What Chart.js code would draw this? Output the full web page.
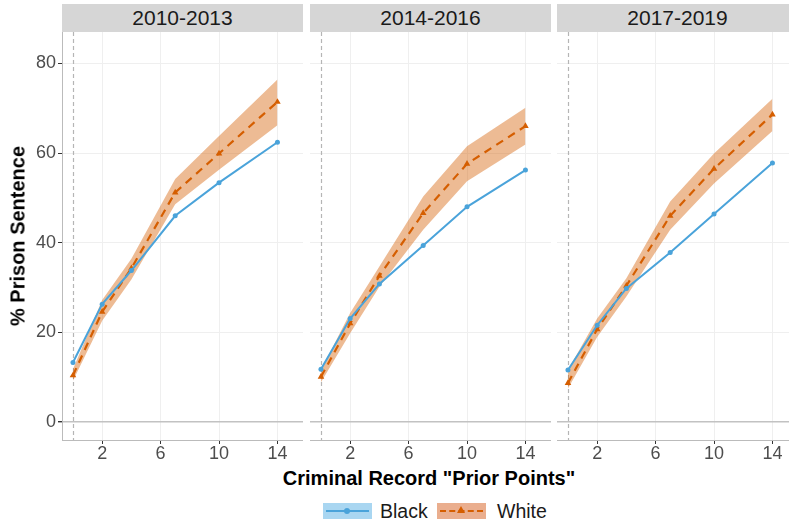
<!DOCTYPE html>
<html>
<head>
<meta charset="utf-8">
<script src="https://cdn.jsdelivr.net/npm/chart.js@4.4.1/dist/chart.umd.min.js"></script>
<style>
    html, body { margin: 0; padding: 0; background: #fff; overflow: hidden; }
    body { width: 789px; height: 523px; position: relative; font-family: "Liberation Sans", Arial, sans-serif; }
    .strip { position: absolute; top: 4px; height: 28px; background: #d6d6d6; color: #1a1a1a;
             font-size: 21px; line-height: 28px; text-align: center; }
    .panel { position: absolute; top: 32px; }
    .ytitle { position: absolute; left: 18px; top: 236px; transform: translate(-50%, -50%) rotate(-90deg);
              font-weight: bold; font-size: 20px; white-space: nowrap; color: #000; }
    .xtitle { position: absolute; left: 429px; top: 478px; transform: translate(-50%, -50%);
              font-weight: bold; font-size: 20px; white-space: nowrap; color: #000; }
    .legend { position: absolute; top: 503px; height: 16px; }
    .key { position: absolute; top: 0; width: 49px; height: 16px; }
    .lab { position: absolute; top: -4px; font-size: 19.5px; line-height: 24px; color: #1a1a1a; }
</style>
</head>
<body>
<div class="strip" style="left:62px;width:241px">2010-2013</div>
<div class="strip" style="left:310px;width:241px">2014-2016</div>
<div class="strip" style="left:557px;width:241px">2017-2019</div>

<div class="panel" style="left:0px;width:303px;height:432px"><canvas id="p0"></canvas></div>
<div class="panel" style="left:310px;width:241px;height:432px"><canvas id="p1"></canvas></div>
<div class="panel" style="left:557px;width:241px;height:432px"><canvas id="p2"></canvas></div>

<div class="ytitle">% Prison Sentence</div>
<div class="xtitle">Criminal Record "Prior Points"</div>

<div class="legend" style="left:0">
    <div class="key" style="left:323px;background:#a9d6f1">
        <div style="position:absolute;left:3px;right:3px;top:7px;height:2px;background:#4aa3da"></div>
        <div style="position:absolute;left:21px;top:5px;width:6px;height:6px;border-radius:3px;background:#4aa3da"></div>
    </div>
    <div class="lab" style="left:380px">Black</div>
    <div class="key" style="left:437px;background:#eaae8e">
        <div style="position:absolute;left:3px;right:3px;top:7px;border-top:2px dashed #d55e00"></div>
        <div style="position:absolute;left:20px;top:3px;width:0;height:0;border-left:4px solid transparent;border-right:4px solid transparent;border-bottom:7px solid #d55e00"></div>
    </div>
    <div class="lab" style="left:497px">White</div>
</div>

<script>
// Prior points where estimates were taken
const priorPoints = [0, 2, 4, 7, 10, 14];
const xTicks = [2, 6, 10, 14];
const yTicks = [0, 20, 40, 60, 80];
const refLineX = 0;

const periods = ['2010-2013', '2014-2016', '2017-2019'];

// % prison sentence, Black defendants
const black1013 = [13.3, 26.3, 33.8, 46.0, 53.4, 62.4];
const black1416 = [11.8, 23.1, 30.8, 39.4, 48.0, 56.2];
const black1719 = [11.6, 21.6, 29.8, 37.8, 46.4, 57.8];

// % prison sentence, White defendants
const white1013 = [10.4, 24.6, 34.3, 51.2, 59.9, 71.4];
const white1416 = [10.1, 22.0, 32.6, 46.6, 57.6, 66.0];
const white1719 = [8.7, 20.7, 30.4, 46.0, 56.5, 68.6];

// White confidence band
const whiteHi1013 = [11.8, 27.2, 36.4, 54.2, 63.8, 76.4];
const whiteLo1013 = [9.2, 22.6, 31.8, 48.6, 56.3, 66.2];
const whiteHi1416 = [11.6, 24.3, 34.7, 50.3, 61.5, 70.1];
const whiteLo1416 = [8.9, 19.8, 30.2, 42.9, 53.7, 61.9];
const whiteHi1719 = [11.6, 23.1, 32.1, 49.2, 59.9, 72.1];
const whiteLo1719 = [7.5, 19.0, 28.0, 42.9, 53.2, 64.9];

const blackData = [black1013, black1416, black1719];
const whiteData = [white1013, white1416, white1719];
const whiteHi = [whiteHi1013, whiteHi1416, whiteHi1719];
const whiteLo = [whiteLo1013, whiteLo1416, whiteLo1719];

const BLUE = '#4aa3da';
const ORANGE = '#d55e00';
const BAND = 'rgba(213, 94, 0, 0.42)';

const toXY = arr => arr.map((v, i) => ({ x: priorPoints[i], y: v }));

// Dashed reference line at zero prior points
const refLinePlugin = {
    id: 'refLine',
    beforeDatasetsDraw(chart) {
        const { ctx, chartArea, scales } = chart;
        const px = Math.round(scales.x.getPixelForValue(refLineX)) + 0.5;
        ctx.save();
        ctx.strokeStyle = '#b5b5b5';
        ctx.lineWidth = 1.2;
        ctx.setLineDash([4, 3]);
        ctx.beginPath();
        ctx.moveTo(px, chartArea.top);
        ctx.lineTo(px, chartArea.bottom);
        ctx.stroke();
        ctx.restore();
    }
};

let charts = {};

function makePanel(idx) {
    const first = idx === 0;
    const ctx = document.getElementById('p' + idx).getContext('2d');
    charts[periods[idx]] = new Chart(ctx, {
        type: 'line',
        data: {
            datasets: [
                {
                    label: 'Black',
                    data: toXY(blackData[idx]),
                    borderColor: BLUE,
                    backgroundColor: BLUE,
                    borderWidth: 2,
                    pointRadius: 2.5,
                    pointStyle: 'circle',
                    pointBorderWidth: 0,
                    fill: false,
                    order: 0
                },
                {
                    label: 'White',
                    data: toXY(whiteData[idx]),
                    borderColor: ORANGE,
                    backgroundColor: ORANGE,
                    borderWidth: 2.2,
                    borderDash: [8, 6],
                    pointRadius: 3.8,
                    pointStyle: 'triangle',
                    pointBorderWidth: 0,
                    fill: false,
                    order: 0
                },
                {
                    label: 'whiteHi',
                    data: toXY(whiteHi[idx]),
                    borderWidth: 0,
                    pointRadius: 0,
                    backgroundColor: BAND,
                    fill: '+1',
                    order: 1
                },
                {
                    label: 'whiteLo',
                    data: toXY(whiteLo[idx]),
                    borderWidth: 0,
                    pointRadius: 0,
                    fill: false,
                    order: 1
                }
            ]
        },
        options: {
            responsive: true,
            maintainAspectRatio: false,
            animation: false,
            layout: { padding: 0, autoPadding: false },
            plugins: {
                legend: { display: false },
                tooltip: { enabled: false },
                title: { display: false }
            },
            scales: {
                x: {
                    type: 'linear',
                    min: -0.75,
                    max: 15.75,
                    afterBuildTicks: s => { s.ticks = xTicks.map(v => ({ value: v })); },
                    afterFit: s => {
                        s.height = 24;
                        s.paddingLeft = 0; s.paddingRight = 0;
                    },
                    grid: {
                        color: c => c.tick && xTicks.includes(c.tick.value) ? '#efefef' : 'rgba(0,0,0,0)',
                        lineWidth: 1,
                        tickColor: '#333',
                        tickLength: 4
                    },
                    border: { display: true, color: '#bbbbbb', width: 1 },
                    ticks: {
                        color: '#4d4d4d',
                        font: { family: 'Liberation Sans', size: 18 },
                        padding: -1,
                        maxRotation: 0
                    }
                },
                y: {
                    min: -4,
                    max: 87,
                    afterBuildTicks: s => { s.ticks = yTicks.map(v => ({ value: v })); },
                    afterFit: s => {
                        s.width = first ? 62 : 0;
                        s.paddingTop = 0; s.paddingBottom = 0;
                    },
                    grid: {
                        color: c => c.tick && c.tick.value === 0 ? '#c2c2c2' : '#efefef',
                        lineWidth: c => c.tick && c.tick.value === 0 ? 1.4 : 1,
                        drawTicks: first,
                        tickColor: '#333',
                        tickLength: first ? 4 : 0
                    },
                    border: { display: first, color: '#bbbbbb', width: 1 },
                    ticks: {
                        display: first,
                        color: '#4d4d4d',
                        font: { family: 'Liberation Sans', size: 18 },
                        padding: 2
                    }
                }
            }
        },
        plugins: [refLinePlugin]
    });
}

document.addEventListener('DOMContentLoaded', () => {
    periods.forEach((p, i) => makePanel(i));
});
</script>
</body>
</html>
